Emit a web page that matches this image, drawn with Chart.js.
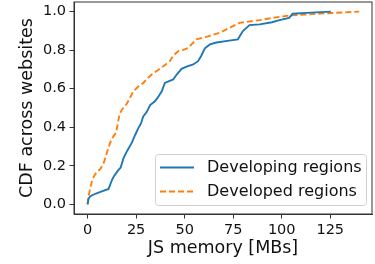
<!DOCTYPE html>
<html>
<head>
<meta charset="utf-8">
<script src="https://cdn.jsdelivr.net/npm/chart.js@4.4.1/dist/chart.umd.min.js"></script>
<style>
  html, body { margin: 0; padding: 0; background: #fff; }
  #wrap { width: 375px; height: 264px; }
</style>
</head>
<body>
<div id="wrap"><canvas id="cdf-chart" width="375" height="264"></canvas></div>
<script>
// CDF of JS memory
const developingX = [0, 0.5, 1.4, 4, 7, 10.8, 12.5, 13.5, 15.6, 17, 18.5, 20.5, 22.8, 24.5, 26.2, 27.5, 28.6, 30.5, 32.2, 34.7, 36.2, 38.2, 39.8, 42, 44.1, 46, 48.4, 51, 54.4, 56.9, 58.5, 60.4, 63, 66.4, 72, 77.4, 78.5, 80, 83.4, 88.6, 95, 98.8, 103.8, 105.6, 115, 125.3];
const developingY = [0, 0.03, 0.042, 0.055, 0.066, 0.08, 0.125, 0.145, 0.175, 0.19, 0.24, 0.28, 0.32, 0.36, 0.397, 0.42, 0.455, 0.48, 0.515, 0.535, 0.555, 0.587, 0.63, 0.64, 0.648, 0.675, 0.703, 0.715, 0.726, 0.743, 0.77, 0.81, 0.83, 0.84, 0.848, 0.856, 0.875, 0.899, 0.93, 0.934, 0.945, 0.956, 0.968, 0.989, 0.995, 1.0];
const developedX = [0, 0.4, 1, 2.2, 3.5, 4.8, 6.7, 8.5, 10, 11.6, 13.3, 14.6, 15.6, 16.4, 17.6, 20.2, 23.6, 26, 28.7, 31, 33, 36, 39, 42.4, 44, 46.7, 49, 51.8, 53.5, 56.1, 62, 68, 73, 78.3, 88.6, 98.8, 104, 120, 139.9];
const developedY = [0, 0.04, 0.066, 0.12, 0.15, 0.168, 0.185, 0.22, 0.27, 0.32, 0.353, 0.37, 0.42, 0.466, 0.49, 0.522, 0.587, 0.61, 0.63, 0.655, 0.674, 0.695, 0.717, 0.743, 0.77, 0.795, 0.8, 0.812, 0.83, 0.856, 0.872, 0.89, 0.915, 0.942, 0.956, 0.973, 0.98, 0.99, 1.0];
const seriesNames = ['Developing regions', 'Developed regions'];
const xTicks = [0, 25, 50, 75, 100, 125];
const yTicks = [0, 0.2, 0.4, 0.6, 0.8, 1.0];

const toPoints = (xs, ys) => xs.map((x, i) => ({ x: x, y: ys[i] }));

// frame on all four sides + legend box in the lower right
const framePlugin = {
    id: 'frame',
    afterDatasetsDraw(chart) {
        const { ctx, chartArea: a } = chart;
        ctx.save();
        ctx.strokeStyle = '#333';
        ctx.lineWidth = 1;
        ctx.strokeRect(a.left, a.top, a.right - a.left, a.bottom - a.top);

        // legend
        const bx = 155.5, by = 154.5, bw = 211, bh = 51;
        ctx.beginPath();
        ctx.roundRect(bx, by, bw, bh, 3);
        ctx.fillStyle = 'rgba(255,255,255,0.8)';
        ctx.fill();
        ctx.strokeStyle = '#d0d0d0';
        ctx.stroke();
        ctx.font = '16px "DejaVu Sans"';
        ctx.textBaseline = 'middle';
        ctx.textAlign = 'left';
        chart.data.datasets.forEach((ds, i) => {
            const y = 167.5 + i * 24;
            ctx.beginPath();
            ctx.setLineDash(ds.borderDash || []);
            ctx.strokeStyle = ds.borderColor;
            ctx.lineWidth = ds.borderWidth;
            ctx.moveTo(160, y);
            ctx.lineTo(194, y);
            ctx.stroke();
            ctx.setLineDash([]);
            ctx.fillStyle = '#111';
            ctx.fillText(ds.label, 207, y);
        });
        ctx.restore();
    }
};

const cdfCanvas = document.getElementById('cdf-chart');
let cdfChart = new Chart(cdfCanvas, {
    type: 'line',
    data: {
        datasets: [{
            label: seriesNames[0],
            data: toPoints(developingX, developingY),
            borderColor: '#1f77b4',
            borderWidth: 1.9,
            pointRadius: 0,
            tension: 0,
            fill: false
        }, {
            label: seriesNames[1],
            data: toPoints(developedX, developedY),
            borderColor: '#ff7f0e',
            borderWidth: 1.9,
            borderDash: [6, 3],
            pointRadius: 0,
            tension: 0,
            fill: false
        }]
    },
    options: {
        responsive: false,
        animation: false,
        layout: { padding: { left: 0, right: 3, top: 2, bottom: 0 } },
        scales: {
            x: {
                type: 'linear',
                min: -7,
                max: 146.5,
                afterBuildTicks: s => { s.ticks = xTicks.map(v => ({ value: v })); },
                afterFit: s => { s.height = 50; s.paddingLeft = 0; s.paddingRight = 0; },
                grid: { drawOnChartArea: false, drawTicks: true, tickLength: 4.5, color: '#333' },
                border: { display: true, color: '#333', width: 1 },
                ticks: {
                    font: { family: 'DejaVu Sans', size: 14.5 },
                    color: '#111',
                    padding: 3,
                    maxRotation: 0
                },
                title: {
                    display: true,
                    text: 'JS memory [MBs]',
                    font: { family: 'DejaVu Sans', size: 17.5, lineHeight: 1 },
                    color: '#111',
                    padding: { top: 0, bottom: 7 }
                }
            },
            y: {
                min: -0.05,
                max: 1.05,
                afterBuildTicks: s => { s.ticks = yTicks.map(v => ({ value: v })); },
                afterFit: s => { s.width = 74; s.paddingTop = 0; s.paddingBottom = 0; },
                grid: { drawOnChartArea: false, drawTicks: true, tickLength: 4.5, color: '#333' },
                border: { display: true, color: '#333', width: 1 },
                ticks: {
                    font: { family: 'DejaVu Sans', size: 14.5 },
                    color: '#111',
                    padding: 3.5,
                    callback: v => v.toFixed(1)
                },
                title: {
                    display: true,
                    text: 'CDF across websites',
                    font: { family: 'DejaVu Sans', size: 17.5, lineHeight: 1 },
                    color: '#111',
                    padding: { top: 19, bottom: 0 }
                }
            }
        },
        plugins: {
            legend: { display: false },
            tooltip: { enabled: false }
        }
    },
    plugins: [framePlugin]
});
</script>
</body>
</html>
